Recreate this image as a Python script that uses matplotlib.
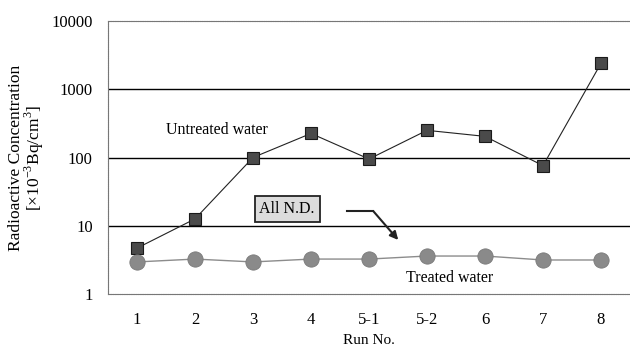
import numpy as np
import matplotlib as mpl
import matplotlib.pyplot as plt

mpl.rcParams.update({
    "font.family": "serif",
    "font.serif": ["Liberation Serif", "DejaVu Serif"],
    "mathtext.fontset": "custom",
    "mathtext.rm": "Liberation Serif",
})

# ---- data ----
runs = ["1", "2", "3", "4", "5-1", "5-2", "6", "7", "8"]
untreated = [4.7, 12.6, 100, 225, 95, 250, 204, 76, 2400]
treated = [2.95, 3.25, 2.95, 3.25, 3.25, 3.6, 3.6, 3.15, 3.15]
yticks = [1, 10, 100, 1000, 10000]

x = np.arange(len(runs))

fig = plt.figure(figsize=(6.3, 3.49), dpi=100)
ax = fig.add_axes([108 / 630, 1 - 294 / 349, 522 / 630, 273 / 349])

ax.set_yscale("log")
ax.set_ylim(1, 10000)
ax.set_xlim(-0.5, len(runs) - 0.5)

# solid horizontal grid lines at the inner decades
for v in yticks[1:-1]:
    ax.axhline(v, color="black", lw=1.0, zorder=1)

ax.plot(x, untreated, color="#222222", lw=0.8, marker="s", ms=9,
        mfc="#4a4a4a", mec="#1a1a1a", mew=0.8, zorder=3)
ax.plot(x, treated, color="#8c8c8c", lw=1.0, marker="o", ms=11,
        mfc="#8a8a8a", mec="#7a7a7a", mew=0.6, zorder=3)

ax.set_xticks(x)
ax.set_xticklabels(runs)
ax.set_yticks(yticks)
ax.set_yticklabels([str(v) for v in yticks])
ax.yaxis.set_minor_locator(mpl.ticker.NullLocator())
ax.tick_params(length=0, labelsize=12)
ax.tick_params(axis="x", pad=13)
ax.tick_params(axis="y", pad=11)

for side in ["left", "top", "bottom"]:
    ax.spines[side].set_color("#777777")
    ax.spines[side].set_linewidth(0.8)
    ax.spines[side].set_linestyle((0, (1, 0.6)))
ax.spines["right"].set_visible(False)

ax.set_xlabel("Run No.", fontsize=11, labelpad=4)
ax.set_ylabel("Radioactive Concentration\n"
              "[×10$^{-3}$Bq/cm$^{3}$]",
              fontsize=12.5, labelpad=4, linespacing=0.9)

# annotations
ax.text(0.209, 0.601, "Untreated water", transform=ax.transAxes,
        ha="center", va="center", fontsize=11.5)
ax.text(0.655, 0.059, "Treated water", transform=ax.transAxes,
        ha="center", va="center", fontsize=11.5)
ax.text(0.343, 0.311, "All N.D.", transform=ax.transAxes,
        ha="center", va="center", fontsize=11.5,
        bbox=dict(boxstyle="square,pad=0.3", fc="#dcdcdc", ec="#222222",
                  lw=1.3))
ax.plot([0.458, 0.508], [0.304, 0.304], transform=ax.transAxes,
        color="#222222", lw=1.5)
ax.annotate("", xy=(0.556, 0.198), xytext=(0.508, 0.304),
            xycoords="axes fraction", textcoords="axes fraction",
            arrowprops=dict(arrowstyle="-|>", lw=1.5, color="#222222",
                            mutation_scale=12, shrinkA=0, shrinkB=0))

fig.savefig("out.png", dpi=100)
